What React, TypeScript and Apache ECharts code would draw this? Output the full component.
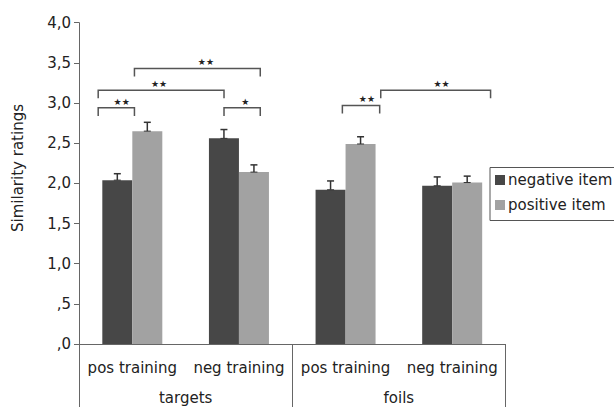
import React, { useEffect, useRef } from "react";
import * as echarts from "echarts";

// ---- data ----
const conditions = ["pos training", "neg training", "pos training", "neg training"];
const groups = ["targets", "foils"];
const negativeItem = [2.04, 2.56, 1.92, 1.97];
const positiveItem = [2.65, 2.14, 2.49, 2.01];
const negativeErr = [0.08, 0.11, 0.11, 0.11];
const positiveErr = [0.11, 0.09, 0.09, 0.08];
const yTickLabels = [",0", ",5", "1,0", "1,5", "2,0", "2,5", "3,0", "3,5", "4,0"];
const yName = "Similarity ratings";
const seriesNames = ["negative item", "positive item"];

// significance brackets (x in category units, y in rating units)
const bracketFrom = [-0.32, -0.32, 0.02, 0.86, 1.97, 2.33];
const bracketTo = [0.02, 0.86, 1.2, 1.2, 2.32, 3.36];
const bracketLevel = [2.94, 3.16, 3.43, 2.94, 2.97, 3.16];
const bracketLabelAt = [-0.1, 0.25, 0.69, 1.06, 2.2, 2.9];
const bracketMarks = ["★★", "★★", "★★", "★", "★★", "★★"];

const DARK = "#474747";
const LIGHT = "#a2a2a2";
const AXIS = "#666";
const TEXT = "#222";
const FONT = "DejaVu Sans";
const BAR_W = 30;

export default function App() {
  const ref = useRef<HTMLDivElement>(null);
  useEffect(() => {
    if (!ref.current) return;
    const chart = echarts.init(ref.current, null, { renderer: "svg" });

    const errSeries = (vals: number[], errs: number[], offset: number) => ({
      type: "custom",
      silent: true,
      z: 5,
      data: vals.map((v, i) => [i, v, errs[i]]),
      encode: { x: 0, y: 1 },
      renderItem: (params: any, api: any) => {
        const cat = api.value(0);
        const v = api.value(1);
        const e = api.value(2);
        const base = api.coord([cat, v]);
        const top = api.coord([cat, v + e]);
        const x = base[0] + offset;
        return {
          type: "group",
          children: [
            { type: "line", shape: { x1: x, y1: base[1], x2: x, y2: top[1] }, style: { stroke: "#333", lineWidth: 1.5 } },
            { type: "line", shape: { x1: x - 3.5, y1: top[1], x2: x + 3.5, y2: top[1] }, style: { stroke: "#333", lineWidth: 1.5 } },
            { type: "line", shape: { x1: x - 3.5, y1: base[1], x2: x + 3.5, y2: base[1] }, style: { stroke: "#333", lineWidth: 1 } },
          ],
        };
      },
    });

    const option: any = {
      animation: false,
      textStyle: { fontFamily: FONT },
      grid: { left: 79, right: 108.5, top: 22.7, bottom: 63, containLabel: false },
      legend: {
        data: seriesNames,
        orient: "vertical",
        left: 490,
        top: 167.5,
        padding: [5, 12, 8, 5],
        itemWidth: 10,
        itemHeight: 10,
        itemGap: 10,
        icon: "rect",
        borderColor: "#555",
        borderWidth: 1,
        textStyle: { fontSize: 15, color: TEXT, fontFamily: FONT, padding: [0, 0, 0, -2] },
      },
      xAxis: [
        {
          type: "category",
          data: conditions,
          position: "bottom",
          axisLine: { show: true, lineStyle: { color: AXIS, width: 1 } },
          axisTick: { show: false },
          axisLabel: { fontSize: 15, color: TEXT, margin: 16, fontFamily: FONT, interval: 0 },
        },
        {
          type: "category",
          data: groups,
          position: "bottom",
          axisLine: { show: false },
          axisTick: { show: true, length: 64, lineStyle: { color: AXIS, width: 1 } },
          axisLabel: { fontSize: 15, color: TEXT, margin: 46, fontFamily: FONT },
        },
      ],
      yAxis: {
        type: "value",
        min: 0,
        max: 4,
        interval: 0.5,
        axisLine: { show: true, lineStyle: { color: AXIS, width: 1 } },
        axisTick: { show: true, length: 5, lineStyle: { color: AXIS } },
        splitLine: { show: false },
        axisLabel: {
          fontSize: 15,
          color: TEXT,
          margin: 8,
          fontFamily: FONT,
          formatter: (v: number) => yTickLabels[Math.round(v / 0.5)] ?? "",
        },
      },
      graphic: [
        {
          type: "text",
          x: 18,
          y: 168,
          rotation: Math.PI / 2,
          style: { text: yName, fontSize: 15, fill: TEXT, fontFamily: FONT, align: "center", verticalAlign: "middle" },
        },
      ],
      series: [
        {
          name: seriesNames[0],
          type: "bar",
          data: negativeItem,
          barWidth: BAR_W,
          barGap: "0%",
          itemStyle: { color: DARK },
        },
        {
          name: seriesNames[1],
          type: "bar",
          data: positiveItem,
          barWidth: BAR_W,
          barGap: "0%",
          itemStyle: { color: LIGHT },
        },
        errSeries(negativeItem, negativeErr, -BAR_W / 2),
        errSeries(positiveItem, positiveErr, BAR_W / 2),
        {
          type: "custom",
          silent: true,
          z: 6,
          data: bracketMarks.map(() => [0, 0]),
          encode: { x: 0, y: 1 },
          renderItem: (params: any, api: any) => {
            const i = params.dataIndex;
            const p0 = api.coord([0, 0]);
            const p1 = api.coord([1, 0]);
            const step = p1[0] - p0[0];
            const X = (u: number) => p0[0] + u * step;
            const yTop = api.coord([0, bracketLevel[i]])[1];
            const yDrop = api.coord([0, bracketLevel[i] - 0.1])[1];
            const x1 = X(bracketFrom[i]);
            const x2 = X(bracketTo[i]);
            return {
              type: "group",
              children: [
                {
                  type: "polyline",
                  shape: { points: [[x1, yDrop], [x1, yTop], [x2, yTop], [x2, yDrop]] },
                  style: { stroke: "#555", lineWidth: 1.5, fill: null },
                },
                {
                  type: "text",
                  x: X(bracketLabelAt[i]),
                  y: yTop - 6,
                  style: { text: bracketMarks[i], fontSize: 9, fill: "#222", fontFamily: FONT, align: "center", verticalAlign: "middle" },
                },
              ],
            };
          },
        },
      ],
    };
    chart.setOption(option);
    return () => chart.dispose();
  }, []);
  return <div ref={ref} style={{ position: "fixed", left: 0, top: 0, width: 614, height: 407, background: "#fff" }} />;
}
